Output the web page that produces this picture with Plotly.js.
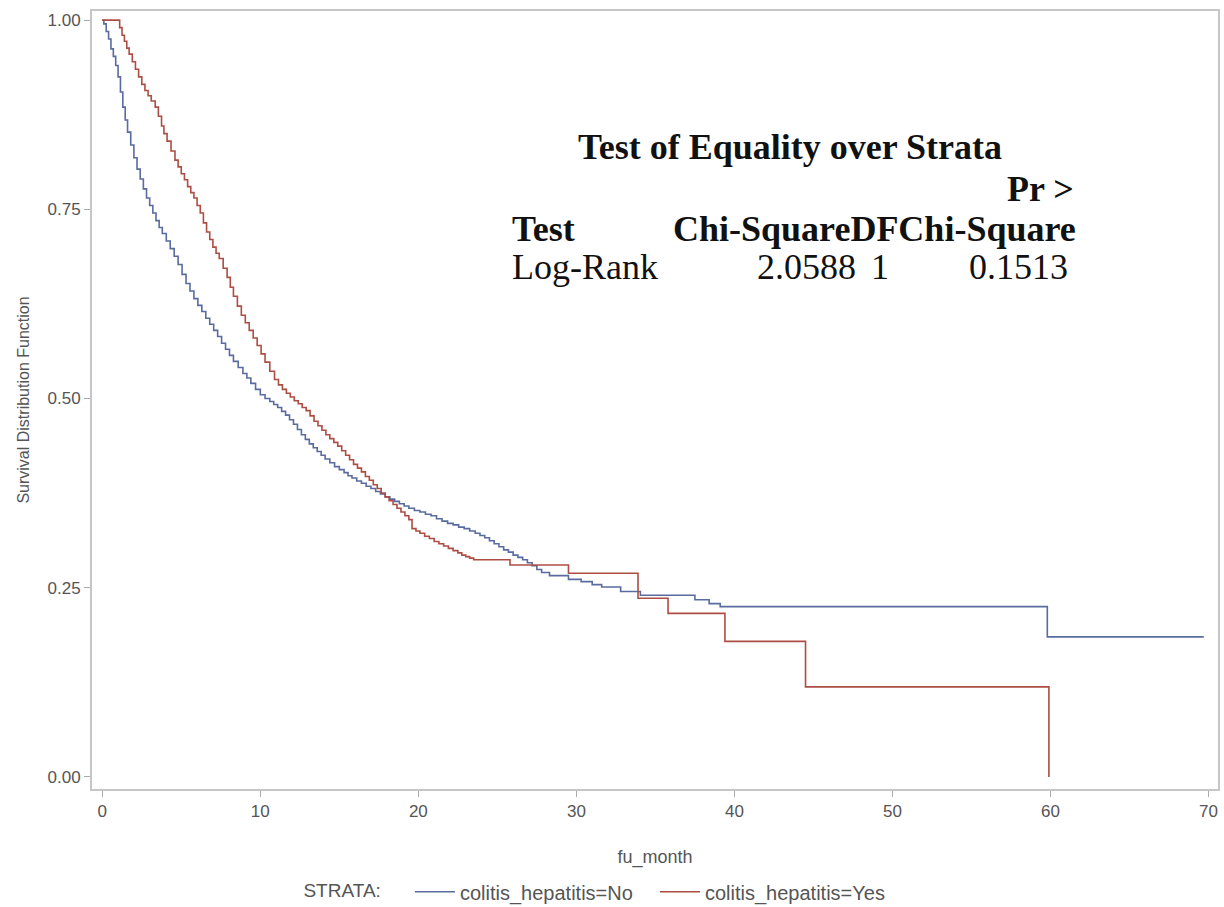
<!DOCTYPE html>
<html>
<head>
<meta charset="utf-8">
<script src="https://cdn.plot.ly/plotly-3.0.1.min.js"></script>
<style>html,body{margin:0;padding:0;background:#fff}#chart{width:1224px;height:907px}</style>
</head>
<body>
<div id="chart"></div>
<script>
// Kaplan-Meier estimates
const timeNo = [0, 0.1, 0.25, 0.4, 0.55, 0.7, 0.85, 1.0, 1.15, 1.3, 1.45, 1.6, 1.8, 2.0, 2.2, 2.4, 2.6, 2.8, 3.0, 3.2, 3.4, 3.6, 3.8, 4.05, 4.3, 4.55, 4.8, 5.05, 5.3, 5.55, 5.8, 6.05, 6.3, 6.55, 6.8, 7.05, 7.3, 7.55, 7.8, 8.05, 8.3, 8.6, 8.9, 9.15, 9.4, 9.7, 10.0, 10.3, 10.6, 10.85, 11.1, 11.35, 11.6, 11.85, 12.1, 12.35, 12.6, 12.85, 13.1, 13.35, 13.6, 13.85, 14.1, 14.4, 14.7, 15.0, 15.3, 15.55, 15.8, 16.1, 16.4, 16.7, 17.0, 17.3, 17.6, 17.9, 18.2, 18.5, 18.8, 19.1, 19.4, 19.75, 20.1, 20.45, 20.8, 21.15, 21.5, 21.85, 22.2, 22.55, 22.9, 23.25, 23.6, 23.9, 24.2, 24.5, 24.8, 25.1, 25.4, 25.7, 26.0, 26.3, 26.6, 26.9, 27.2, 27.5, 27.8, 28.3, 29.5, 30.3, 31.0, 31.6, 32.8, 34.05, 37.5, 38.4, 39.1, 59.8, 69.7];
const survNo = [1.0, 0.995, 0.985, 0.975, 0.962, 0.952, 0.94, 0.925, 0.905, 0.885, 0.868, 0.852, 0.835, 0.818, 0.803, 0.79, 0.777, 0.765, 0.755, 0.745, 0.735, 0.726, 0.718, 0.708, 0.698, 0.688, 0.677, 0.664, 0.652, 0.642, 0.632, 0.623, 0.615, 0.606, 0.598, 0.590, 0.582, 0.573, 0.565, 0.557, 0.549, 0.541, 0.533, 0.527, 0.52, 0.512, 0.505, 0.5, 0.496, 0.492, 0.488, 0.483, 0.478, 0.472, 0.466, 0.459, 0.452, 0.446, 0.44, 0.435, 0.43, 0.425, 0.42, 0.415, 0.41, 0.406, 0.402, 0.398, 0.395, 0.391, 0.388, 0.384, 0.381, 0.377, 0.374, 0.370, 0.367, 0.364, 0.361, 0.358, 0.355, 0.352, 0.350, 0.347, 0.345, 0.341, 0.338, 0.335, 0.333, 0.330, 0.328, 0.325, 0.322, 0.319, 0.316, 0.312, 0.308, 0.304, 0.300, 0.297, 0.293, 0.290, 0.287, 0.283, 0.279, 0.274, 0.270, 0.266, 0.261, 0.258, 0.254, 0.251, 0.245, 0.240, 0.234, 0.229, 0.225, 0.185, 0.185];

const timeYes = [0, 1.1, 1.25, 1.4, 1.55, 1.7, 1.9, 2.1, 2.3, 2.5, 2.7, 2.9, 3.1, 3.35, 3.55, 3.75, 3.9, 4.1, 4.35, 4.6, 4.8, 5.0, 5.2, 5.4, 5.6, 5.8, 6.0, 6.2, 6.4, 6.6, 6.8, 7.0, 7.2, 7.4, 7.65, 7.9, 8.1, 8.3, 8.55, 8.8, 9.05, 9.3, 9.55, 9.8, 10.05, 10.3, 10.6, 10.9, 11.15, 11.4, 11.65, 11.9, 12.15, 12.4, 12.65, 12.9, 13.15, 13.4, 13.65, 13.9, 14.15, 14.4, 14.65, 14.9, 15.15, 15.4, 15.65, 15.9, 16.15, 16.4, 16.65, 16.9, 17.15, 17.4, 17.65, 17.9, 18.15, 18.4, 18.65, 18.9, 19.15, 19.4, 19.6, 19.85, 20.1, 20.4, 20.7, 21.0, 21.3, 21.6, 21.9, 22.2, 22.5, 22.75, 23.0, 23.25, 23.5, 25.8, 29.5, 33.9, 35.8, 39.4, 44.5, 59.9];
const survYes = [1.0, 0.99, 0.98, 0.972, 0.963, 0.955, 0.945, 0.935, 0.925, 0.915, 0.907, 0.9, 0.893, 0.885, 0.873, 0.86, 0.85, 0.84, 0.827, 0.815, 0.806, 0.797, 0.789, 0.78, 0.772, 0.765, 0.755, 0.745, 0.732, 0.72, 0.71, 0.70, 0.692, 0.685, 0.672, 0.66, 0.647, 0.635, 0.622, 0.61, 0.6, 0.59, 0.58, 0.57, 0.559, 0.548, 0.536, 0.525, 0.518, 0.512, 0.507, 0.502, 0.497, 0.493, 0.488, 0.484, 0.477, 0.470, 0.464, 0.458, 0.452, 0.447, 0.442, 0.437, 0.431, 0.425, 0.419, 0.413, 0.408, 0.403, 0.397, 0.392, 0.386, 0.381, 0.375, 0.370, 0.365, 0.36, 0.355, 0.35, 0.345, 0.34, 0.328, 0.325, 0.322, 0.318, 0.315, 0.311, 0.308, 0.305, 0.302, 0.299, 0.296, 0.293, 0.291, 0.289, 0.287, 0.280, 0.269, 0.236, 0.216, 0.179, 0.119, 0.0];

const seriesNames = ['colitis_hepatitis=No', 'colitis_hepatitis=Yes'];
const xTicks = [0, 10, 20, 30, 40, 50, 60, 70];
const yTicks = [0, 0.25, 0.5, 0.75, 1.0];
const yTickLabels = ['0.00', '0.25', '0.50', '0.75', '1.00'];

const tableTitle = 'Test of Equality over Strata';
const testName = 'Log-Rank';
const chiSquare = '2.0588';
const df = '1';
const pValue = '0.1513';

const traces = [
  {x: timeNo, y: survNo, name: seriesNames[0], type: 'scatter', mode: 'lines',
   line: {shape: 'hv', color: '#5a6b9f', width: 1.6}},
  {x: timeYes, y: survYes, name: seriesNames[1], type: 'scatter', mode: 'lines',
   line: {shape: 'hv', color: '#ad4d43', width: 1.6}}
];

const serif = 'Liberation Serif, Times New Roman, serif';
const sans = 'Liberation Sans, Arial, sans-serif';
const tfs = 36;

const layout = {
  width: 1224, height: 907,
  margin: {l: 92, r: 6, t: 11, b: 118, autoexpand: false},
  paper_bgcolor: '#fff', plot_bgcolor: '#fff',
  showlegend: true,
  legend: {
    orientation: 'h', x: 0.186, xanchor: 'left', y: -0.132, yanchor: 'middle',
    font: {family: sans, size: 20, color: '#555'},
    title: {text: 'STRATA:\u00a0\u00a0\u00a0\u00a0', side: 'left', font: {family: sans, size: 19, color: '#555'}},
    entrywidth: 190, entrywidthmode: 'pixels', itemwidth: 40
  },
  xaxis: {
    range: [-0.65, 70.6], tickvals: xTicks, ticktext: xTicks.map(String),
    ticks: 'outside', ticklen: 6, tickcolor: '#aaa', tickwidth: 1,
    showgrid: false, zeroline: false, showline: true, mirror: true,
    linecolor: '#c6c6c6', linewidth: 2,
    tickfont: {family: sans, size: 17, color: '#555'},
    title: {text: 'fu_month', font: {family: sans, size: 18, color: '#555'}, standoff: 30}
  },
  yaxis: {
    range: [-0.016, 1.012], tickvals: yTicks, ticktext: yTickLabels,
    ticks: 'outside', ticklen: 6, tickcolor: '#aaa', tickwidth: 1,
    showgrid: false, zeroline: false, showline: true, mirror: true,
    linecolor: '#c6c6c6', linewidth: 2,
    tickfont: {family: sans, size: 17, color: '#555'},
    title: {text: 'Survival Distribution Function', font: {family: sans, size: 16, color: '#555'}, standoff: 14}
  },
  annotations: [
    {xref: 'paper', yref: 'paper', x: 0.62, y: 0.825, xanchor: 'center', yanchor: 'middle', showarrow: false,
     text: '<b>' + tableTitle + '</b>', font: {family: serif, size: tfs, color: '#111'}},
    {xref: 'paper', yref: 'paper', x: 0.874, y: 0.771, xanchor: 'right', yanchor: 'middle', showarrow: false,
     text: '<b>Pr &gt;</b>', font: {family: serif, size: tfs, color: '#111'}},
    {xref: 'paper', yref: 'paper', x: 0.371, y: 0.72, xanchor: 'left', yanchor: 'middle', showarrow: false,
     text: '<b>Test</b>', font: {family: serif, size: tfs, color: '#111'}},
    {xref: 'paper', yref: 'paper', x: 0.876, y: 0.72, xanchor: 'right', yanchor: 'middle', showarrow: false,
     text: '<b>Chi-SquareDFChi-Square</b>', font: {family: serif, size: tfs, color: '#111'}},
    {xref: 'paper', yref: 'paper', x: 0.371, y: 0.671, xanchor: 'left', yanchor: 'middle', showarrow: false,
     text: testName, font: {family: serif, size: tfs, color: '#111'}},
    {xref: 'paper', yref: 'paper', x: 0.680, y: 0.671, xanchor: 'right', yanchor: 'middle', showarrow: false,
     text: chiSquare, font: {family: serif, size: tfs, color: '#111'}},
    {xref: 'paper', yref: 'paper', x: 0.700, y: 0.671, xanchor: 'center', yanchor: 'middle', showarrow: false,
     text: df, font: {family: serif, size: tfs, color: '#111'}},
    {xref: 'paper', yref: 'paper', x: 0.869, y: 0.671, xanchor: 'right', yanchor: 'middle', showarrow: false,
     text: pValue, font: {family: serif, size: tfs, color: '#111'}}
  ]
};

Plotly.newPlot('chart', traces, layout, {staticPlot: true, displayModeBar: false});
</script>
</body>
</html>
